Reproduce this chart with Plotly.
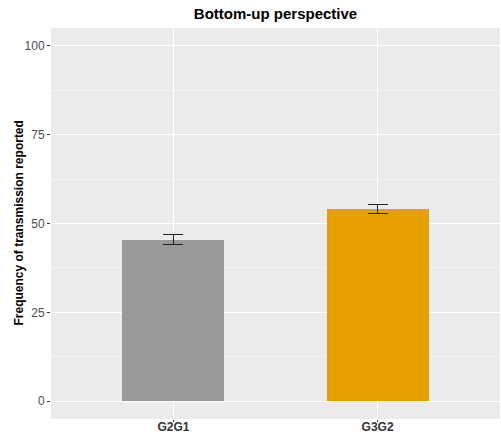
import plotly.graph_objects as go

categories = ["G2G1", "G3G2"]
values = [45.5, 54.0]
err_plus = [1.5, 1.3]
err_minus = [1.5, 1.2]
colors = ["#999999", "#E69F00"]
y_ticks = [0, 25, 50, 75, 100]

fig = go.Figure()
fig.add_trace(go.Bar(
    x=categories, y=values, width=0.5,
    marker=dict(color=colors, line=dict(width=0)),
    error_y=dict(type="data", symmetric=False, array=err_plus, arrayminus=err_minus,
                 color="#222222", thickness=1, width=10),
    showlegend=False,
))

fig.update_layout(
    width=501, height=435,
    margin=dict(l=51, r=1, t=28, b=16),
    paper_bgcolor="white",
    plot_bgcolor="#EBEBEB",
    title=dict(text="<b>Bottom-up perspective</b>", x=0.55, xanchor="center",
               y=1 - 14 / 435, yanchor="middle",
               font=dict(family="Liberation Sans, Arial", size=15, color="black")),
    font=dict(family="Liberation Sans, Arial"),
    bargap=0,
    annotations=[dict(
        text="<b>Frequency of transmission reported</b>",
        xref="paper", yref="paper", x=(18 - 51) / 449, y=0.5,
        xanchor="center", yanchor="middle", textangle=-90, showarrow=False,
        font=dict(size=12, color="black", family="Liberation Sans, Arial"),
    )],
)
fig.update_xaxes(
    range=[-0.6, 1.6], showgrid=True, gridcolor="white", gridwidth=1.2,
    ticks="outside", ticklen=2, tickcolor="#333333", tickwidth=1,
    tickfont=dict(size=12, color="#333333", family="Liberation Sans, Arial"),
    tickprefix="<b>", ticksuffix="</b>", ticklabelstandoff=-5,
    zeroline=False, showline=False, automargin=False,
)
fig.update_yaxes(
    range=[-5, 105], tickvals=y_ticks, showgrid=True, gridcolor="white", gridwidth=1.2,
    minor=dict(dtick=12.5, tick0=0, showgrid=True, gridcolor="#F5F5F5", gridwidth=0.6),
    ticks="outside", ticklen=3, tickcolor="#333333", tickwidth=1,
    tickfont=dict(size=12, color="#4D4D4D"),
    zeroline=False, showline=False, automargin=False,
)

fig.write_html("out.html")
